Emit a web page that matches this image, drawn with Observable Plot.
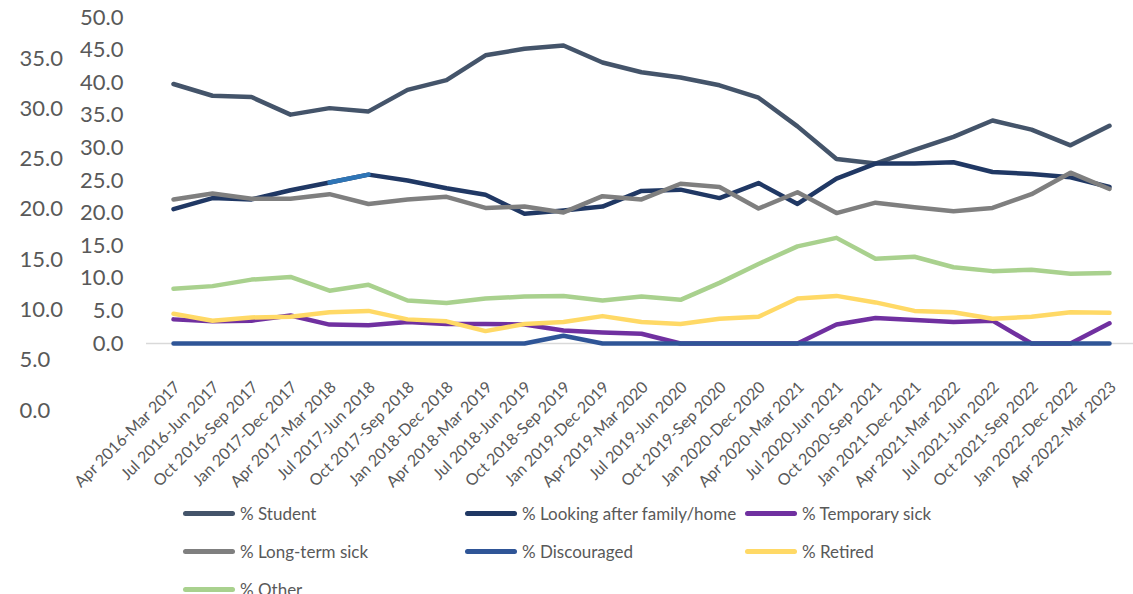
<!DOCTYPE html>
<html><head><meta charset="utf-8">
<script src="https://cdn.jsdelivr.net/npm/d3@7"></script>
<script src="https://cdn.jsdelivr.net/npm/@observablehq/plot@0.6"></script>
<style>
body{margin:0;background:#fff;width:1133px;height:594px;overflow:hidden;position:relative;font-family:Lato,"Open Sans",sans-serif;}
#outer,#main{position:absolute;left:0;top:0;}
.li{position:absolute;display:flex;align-items:center;font-size:17px;color:#595959;white-space:nowrap;height:20px;}
.sw{width:52px;height:5px;border-radius:3px;margin-right:5px;}
</style></head><body>
<div id="outer"></div><div id="main"></div><div id="legend"></div>
<script>
const periods = ["Apr 2016-Mar 2017","Jul 2016-Jun 2017","Oct 2016-Sep 2017","Jan 2017-Dec 2017","Apr 2017-Mar 2018","Jul 2017-Jun 2018","Oct 2017-Sep 2018","Jan 2018-Dec 2018","Apr 2018-Mar 2019","Jul 2018-Jun 2019","Oct 2018-Sep 2019","Jan 2019-Dec 2019","Apr 2019-Mar 2020","Jul 2019-Jun 2020","Oct 2019-Sep 2020","Jan 2020-Dec 2020","Apr 2020-Mar 2021","Jul 2020-Jun 2021","Oct 2020-Sep 2021","Jan 2021-Dec 2021","Apr 2021-Mar 2022","Jul 2021-Jun 2022","Oct 2021-Sep 2022","Jan 2022-Dec 2022","Apr 2022-Mar 2023"];
const student      = [39.8,38.0,37.8,35.1,36.1,35.6,38.9,40.4,44.2,45.2,45.7,43.1,41.6,40.8,39.6,37.7,33.3,28.3,27.6,29.7,31.7,34.2,32.8,30.4,33.4];
const lookingAfter = [20.6,22.3,22.1,23.5,24.7,25.9,25.0,23.8,22.8,19.9,20.4,21.0,23.4,23.6,22.3,24.6,21.4,25.3,27.6,27.6,27.8,26.3,26.0,25.5,24.0];
const temporarySick= [3.7,3.4,3.5,4.3,2.9,2.8,3.3,3.0,3.0,2.9,2.0,1.7,1.5,0,0,0,0,2.9,3.9,3.6,3.3,3.5,0,0,3.1];
const longTermSick = [22.1,23.0,22.2,22.2,22.9,21.4,22.1,22.5,20.8,21.0,20.1,22.6,22.1,24.5,24.0,20.7,23.2,20.0,21.6,20.9,20.3,20.8,22.9,26.2,23.7];
const discouraged  = [0,0,0,0,0,0,0,0,0,0,1.2,0,0,0,0,0,0,0,0,0,0,0,0,0,0];
const retired      = [4.55,3.5,4.0,4.1,4.8,5.0,3.7,3.4,1.9,3.0,3.3,4.2,3.3,3.0,3.8,4.1,6.9,7.3,6.3,5.0,4.8,3.8,4.1,4.8,4.7];
const other        = [8.4,8.8,9.8,10.2,8.1,9.0,6.6,6.2,6.9,7.2,7.3,6.6,7.2,6.7,9.3,12.2,14.9,16.2,13.0,13.3,11.7,11.1,11.3,10.7,10.8];
const seriesNames  = ["% Student","% Looking after family/home","% Temporary sick","% Long-term sick","% Discouraged","% Retired","% Other"];
const seriesValues = [student,lookingAfter,temporarySick,longTermSick,discouraged,retired,other];
const seriesColors = ["#44546a","#203864","#7030a0","#7f7f7f","#2f5597","#ffd966","#a9d18e"];
const highlightIdx = [4,5]; // formatted data point in "Looking after family/home"
const highlightColor = "#2e75b6";
const innerTicks = [0,5,10,15,20,25,30,35,40,45,50];
const outerTicks = [0,5,10,15,20,25,30,35];

const fmt = d => d.toFixed(1);
const lineStyle = {strokeWidth:4.5, strokeLinecap:"round", strokeLinejoin:"round"};

const lineMarks = [];
seriesValues.forEach((vals,k) => {
  const rows = vals.map((v,i)=>({period:periods[i], value:v}));
  lineMarks.push(Plot.line(rows,{x:"period",y:"value",stroke:seriesColors[k],...lineStyle}));
  if (k===1) {
    const hl = highlightIdx.map(i=>({period:periods[i], value:vals[i]}));
    lineMarks.push(Plot.line(hl,{x:"period",y:"value",stroke:highlightColor,...lineStyle}));
  }
});

const main = Plot.plot({
  width:1133, height:490,
  marginLeft:146, marginRight:0, marginTop:17, marginBottom:147,
  style:{background:"transparent", fontFamily:"Lato, 'Open Sans', sans-serif", color:"#595959"},
  x:{type:"point", domain:periods, range:[165,1117], padding:0, label:null},
  y:{domain:[0,50], label:null},
  marks:[
    Plot.ruleY([0],{stroke:"#d9d9d9", strokeWidth:1.5}),
    Plot.axisY(innerTicks,{tickSize:0, tickPadding:23, tickFormat:fmt, fontSize:22, fill:"#595959", label:null}),
    Plot.axisX({tickRotate:-45, tickSize:0, tickPadding:41, dx:4, fontSize:16, fill:"#595959", label:null}),
    ...lineMarks
  ]
});
document.getElementById("main").appendChild(main);

const outer = Plot.plot({
  width:130, height:490,
  marginLeft:19, marginRight:0, marginTop:58, marginBottom:80,
  style:{background:"transparent", fontFamily:"Lato, 'Open Sans', sans-serif"},
  x:{axis:null},
  y:{domain:[0,35], axis:null},
  marks:[
    Plot.text(outerTicks,{y:d=>d, text:fmt, frameAnchor:"left", textAnchor:"start", fontSize:22, fill:"#595959"})
  ]
});
document.getElementById("outer").appendChild(outer);

const lg = document.getElementById("legend");
const colX = [183,465,745];
seriesNames.forEach((name,k)=>{
  const d = document.createElement("div");
  d.className="li";
  d.style.left = colX[k%3]+"px";
  d.style.top = (503 + Math.floor(k/3)*38)+"px";
  d.innerHTML = `<span class="sw" style="background:${seriesColors[k]}"></span><span>${name}</span>`;
  lg.appendChild(d);
});
</script>
</body></html>
